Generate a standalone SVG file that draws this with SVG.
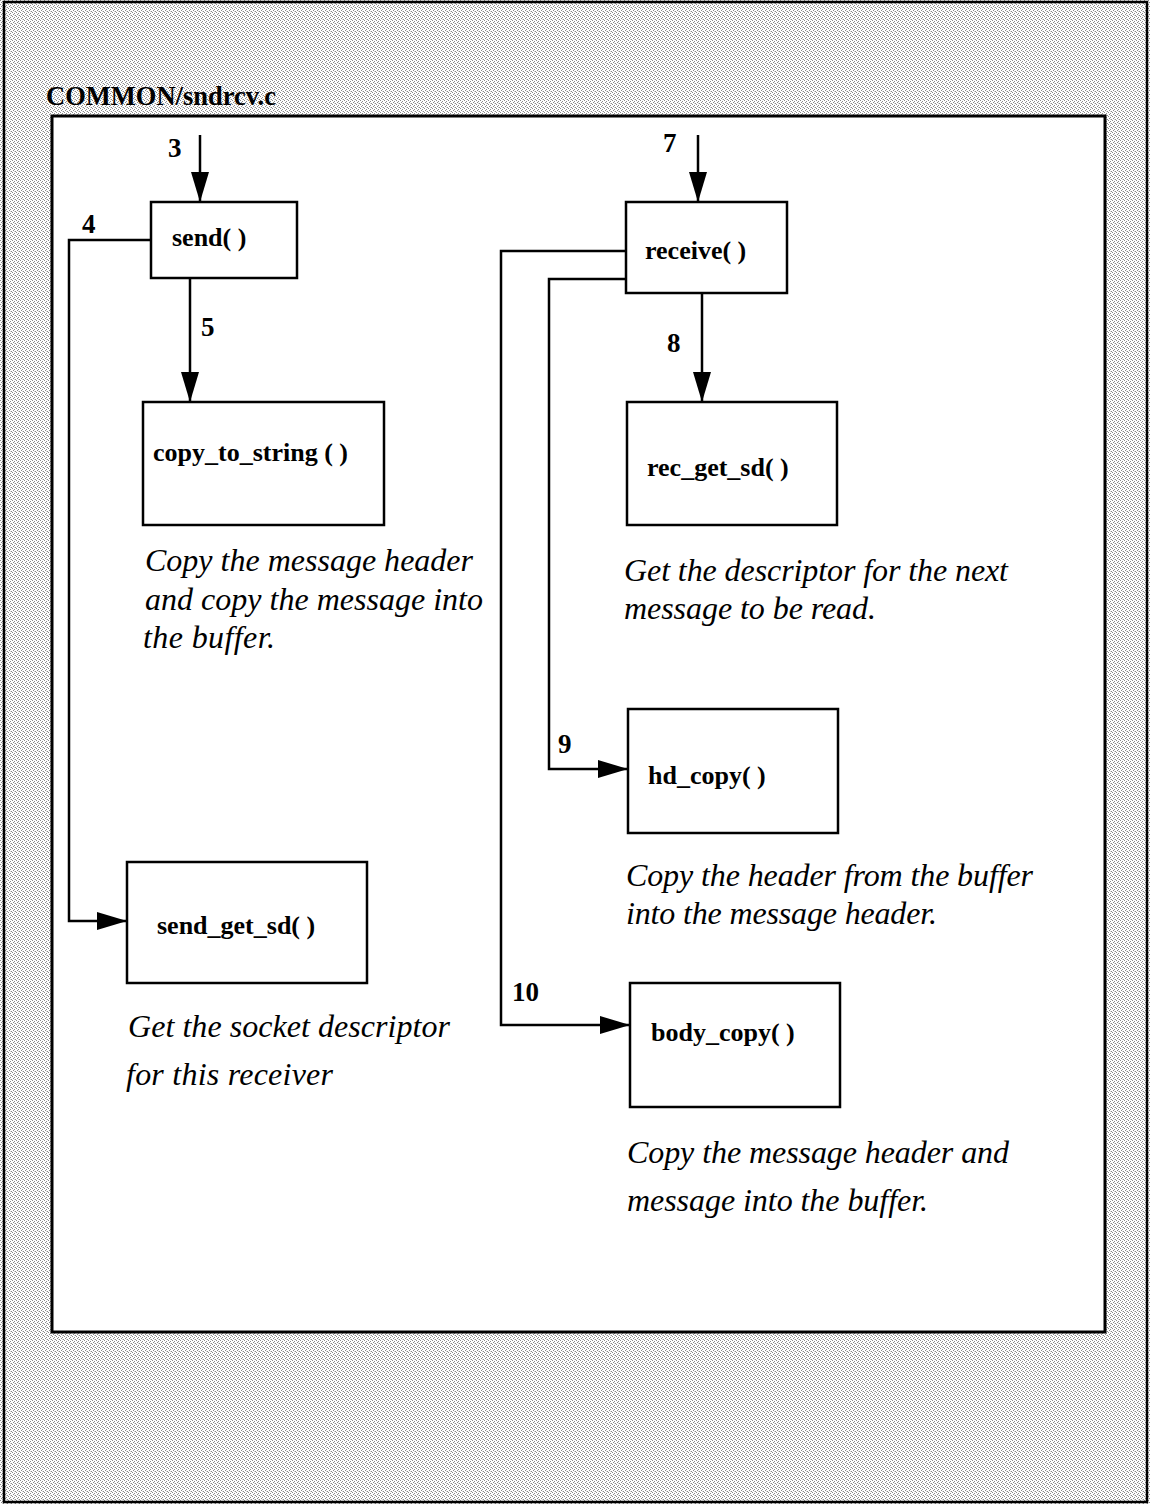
<svg xmlns="http://www.w3.org/2000/svg" width="1150" height="1504" viewBox="0 0 1150 1504">
  <defs>
    <!-- halftone screen for the page background -->
    <pattern id="halftone" width="4" height="4" patternUnits="userSpaceOnUse">
      <rect width="4" height="4" fill="#ffffff"/>
      <rect x="0" y="0" width="1" height="1" fill="#8a8a8a"/>
      <rect x="2" y="1" width="1" height="1" fill="#8a8a8a"/>
      <rect x="1" y="2" width="1" height="1" fill="#8a8a8a"/>
      <rect x="3" y="3" width="1" height="1" fill="#8a8a8a"/>
      <rect x="2" y="3" width="1" height="1" fill="#d6d6d6"/>
    </pattern>
    <marker id="arrow" markerUnits="userSpaceOnUse" markerWidth="32" markerHeight="20" refX="30" refY="9" orient="auto">
      <path d="M0,0 L30,9 L0,18 z" fill="#000"/>
    </marker>
    <style>
      .frame { fill: none; stroke: #000; stroke-width: 2.5; }
      .box { fill: #fff; stroke: #000; stroke-width: 2.5; }
      .link { fill: none; stroke: #000; stroke-width: 2.5; marker-end: url(#arrow); }
      .title { font-family: "Liberation Serif", "Times New Roman", serif; font-weight: bold; font-size: 27px; fill: #000; }
      .fn { font-family: "Liberation Serif", "Times New Roman", serif; font-weight: bold; font-size: 26px; fill: #000; }
      .num { font-family: "Liberation Serif", "Times New Roman", serif; font-weight: bold; font-size: 27px; fill: #000; }
      .note { font-family: "Liberation Serif", "Times New Roman", serif; font-style: italic; font-size: 32px; fill: #000; }
    </style>
  </defs>

  <!-- page -->
  <rect x="0" y="0" width="1150" height="1504" fill="url(#halftone)"/>
  <rect x="4" y="2" width="1143" height="1500" class="frame"/>
  <text x="46" y="105" class="title" textLength="230" lengthAdjust="spacingAndGlyphs">COMMON/sndrcv.c</text>
  <rect x="52" y="116" width="1053" height="1216" fill="#fff" stroke="#000" stroke-width="3"/>

  <!-- connectors -->
  <g id="connectors">
    <path class="link" d="M200,135 V202"/>
    <path class="link" d="M698,135 V202"/>
    <path class="link" d="M151,240 H69 V921 H127"/>
    <path class="link" d="M190,278 V402"/>
    <path class="link" d="M702,294 V402"/>
    <path class="link" d="M626,279 H549 V769 H628"/>
    <path class="link" d="M626,251 H501 V1025 H630"/>
    <text x="168" y="157" class="num">3</text>
    <text x="663" y="152" class="num">7</text>
    <text x="82" y="233" class="num">4</text>
    <text x="201" y="336" class="num">5</text>
    <text x="667" y="352" class="num">8</text>
    <text x="558" y="753" class="num">9</text>
    <text x="512" y="1001" class="num">10</text>
  </g>

  <g id="send">
    <rect x="151" y="202" width="146" height="76" class="box"/>
    <text x="172" y="246" class="fn">send( )</text>
  </g>

  <g id="copy_to_string">
    <rect x="143" y="402" width="241" height="123" class="box"/>
    <text x="153" y="461" class="fn">copy_to_string ( )</text>
    <text class="note" x="145" y="571" textLength="328" lengthAdjust="spacing">Copy the message header</text>
    <text class="note" x="145" y="610" textLength="338" lengthAdjust="spacing">and copy the message into</text>
    <text class="note" x="143" y="648" textLength="132" lengthAdjust="spacing">the buffer.</text>
  </g>

  <g id="send_get_sd">
    <rect x="127" y="862" width="240" height="121" class="box"/>
    <text x="157" y="934" class="fn">send_get_sd( )</text>
    <text class="note" x="128" y="1037" textLength="322" lengthAdjust="spacing">Get the socket descriptor</text>
    <text class="note" x="126" y="1085" textLength="207" lengthAdjust="spacing">for this receiver</text>
  </g>

  <g id="receive">
    <rect x="626" y="202" width="161" height="91" class="box"/>
    <text x="645" y="259" class="fn">receive( )</text>
  </g>

  <g id="rec_get_sd">
    <rect x="627" y="402" width="210" height="123" class="box"/>
    <text x="647" y="476" class="fn">rec_get_sd( )</text>
    <text class="note" x="624" y="581" textLength="384" lengthAdjust="spacing">Get the descriptor for the next</text>
    <text class="note" x="624" y="619" textLength="252" lengthAdjust="spacing">message to be read.</text>
  </g>

  <g id="hd_copy">
    <rect x="628" y="709" width="210" height="124" class="box"/>
    <text x="648" y="784" class="fn">hd_copy( )</text>
    <text class="note" x="626" y="886" textLength="407" lengthAdjust="spacing">Copy the header from the buffer</text>
    <text class="note" x="626" y="924" textLength="311" lengthAdjust="spacing">into the message header.</text>
  </g>

  <g id="body_copy">
    <rect x="630" y="983" width="210" height="124" class="box"/>
    <text x="651" y="1041" class="fn">body_copy( )</text>
    <text class="note" x="627" y="1163" textLength="382" lengthAdjust="spacing">Copy the message header and</text>
    <text class="note" x="627" y="1211" textLength="301" lengthAdjust="spacing">message into the buffer.</text>
  </g>
</svg>
